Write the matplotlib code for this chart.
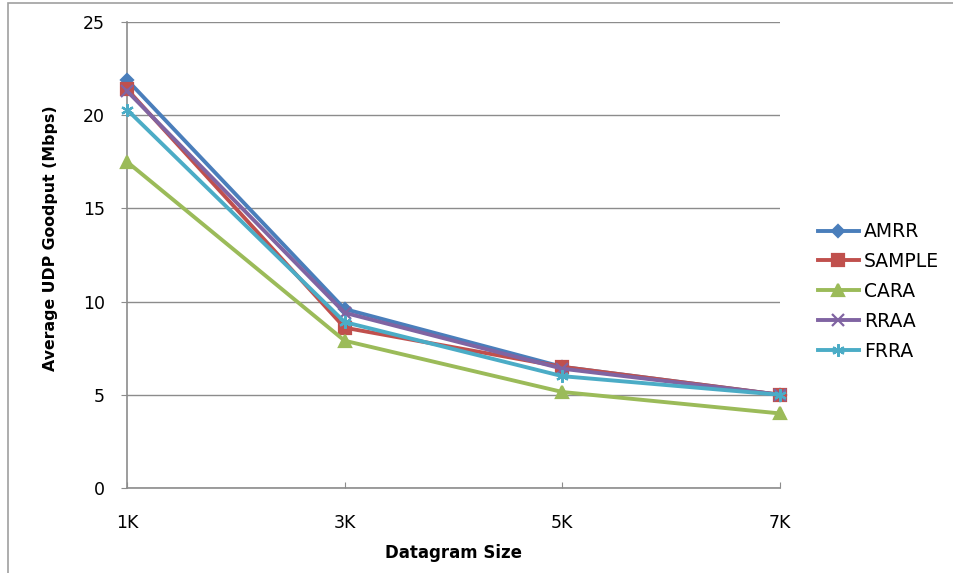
import numpy as np
import matplotlib
matplotlib.use("Agg")
import matplotlib.pyplot as plt
from matplotlib.patches import Rectangle

plt.rcParams['font.family'] = ['DejaVu Sans']

sizes = ['1K', '3K', '5K', '7K']
amrr = [21.9, 9.6, 6.5, 5.0]
sample = [21.4, 8.6, 6.5, 5.0]
cara = [17.5, 7.9, 5.15, 4.0]
rraa = [21.3, 9.4, 6.4, 5.0]
frra = [20.3, 8.9, 6.0, 5.0]

names = ['AMRR', 'SAMPLE', 'CARA', 'RRAA', 'FRRA']
colors = ['#4A7EBB', '#C0504D', '#9BBB59', '#8064A2', '#4BACC6']
markers = ['D', 's', '^', 'x', (6, 2, 0)]
msizes = [6, 8, 8, 8, 9]

fig = plt.figure(figsize=(9.54, 5.73), dpi=100)
ax = fig.add_axes([127/954, 1-488/573, (780-127)/954, (488-22)/573])

# outer chart border
fig.patches.append(Rectangle((8/954, -0.1), 1.5, 1.1 - 3.5/573,
                             transform=fig.transFigure, fill=False,
                             edgecolor='#a0a0a0', lw=1.2))

x = np.arange(len(sizes))
for vals, name, c, m, ms in zip([amrr, sample, cara, rraa, frra], names,
                                colors, markers, msizes):
    ax.plot(x, vals, color=c, lw=2.8, marker=m, ms=ms, mec=c, mfc=c,
            mew=1.6, label=name, clip_on=False, zorder=3)

ax.set_xlim(0, 3)
ax.set_ylim(0, 25)
ax.set_yticks(np.arange(0, 26, 5))
ax.set_xticks(x)
ax.set_xticklabels(sizes)
ax.yaxis.grid(True, color='#8c8c8c', lw=1.0)
ax.set_axisbelow(True)
for s in ['top', 'right']:
    ax.spines[s].set_visible(False)
for s in ['left', 'bottom']:
    ax.spines[s].set_color('#8c8c8c')
    ax.spines[s].set_linewidth(1.2)
ax.tick_params(axis='y', direction='out', length=4.5, color='#8c8c8c',
               labelsize=12.5, pad=11.5)
ax.tick_params(axis='x', direction='in', length=4.5, color='#8c8c8c',
               labelsize=12.5, pad=19)

ax.set_xlabel('Datagram Size', fontsize=12, fontweight='bold', labelpad=8)
ax.set_ylabel('Average UDP Goodput (Mbps)', fontsize=11.3, fontweight='bold')
ax.yaxis.set_label_coords(-0.106, 0.536)

ax.legend(loc='center left', bbox_to_anchor=(1.058, 0.422), frameon=False,
          fontsize=13.5, handlelength=2.2, labelspacing=0.58, handletextpad=0.25,
          borderaxespad=0, borderpad=0)

fig.savefig('out.png', dpi=100)
